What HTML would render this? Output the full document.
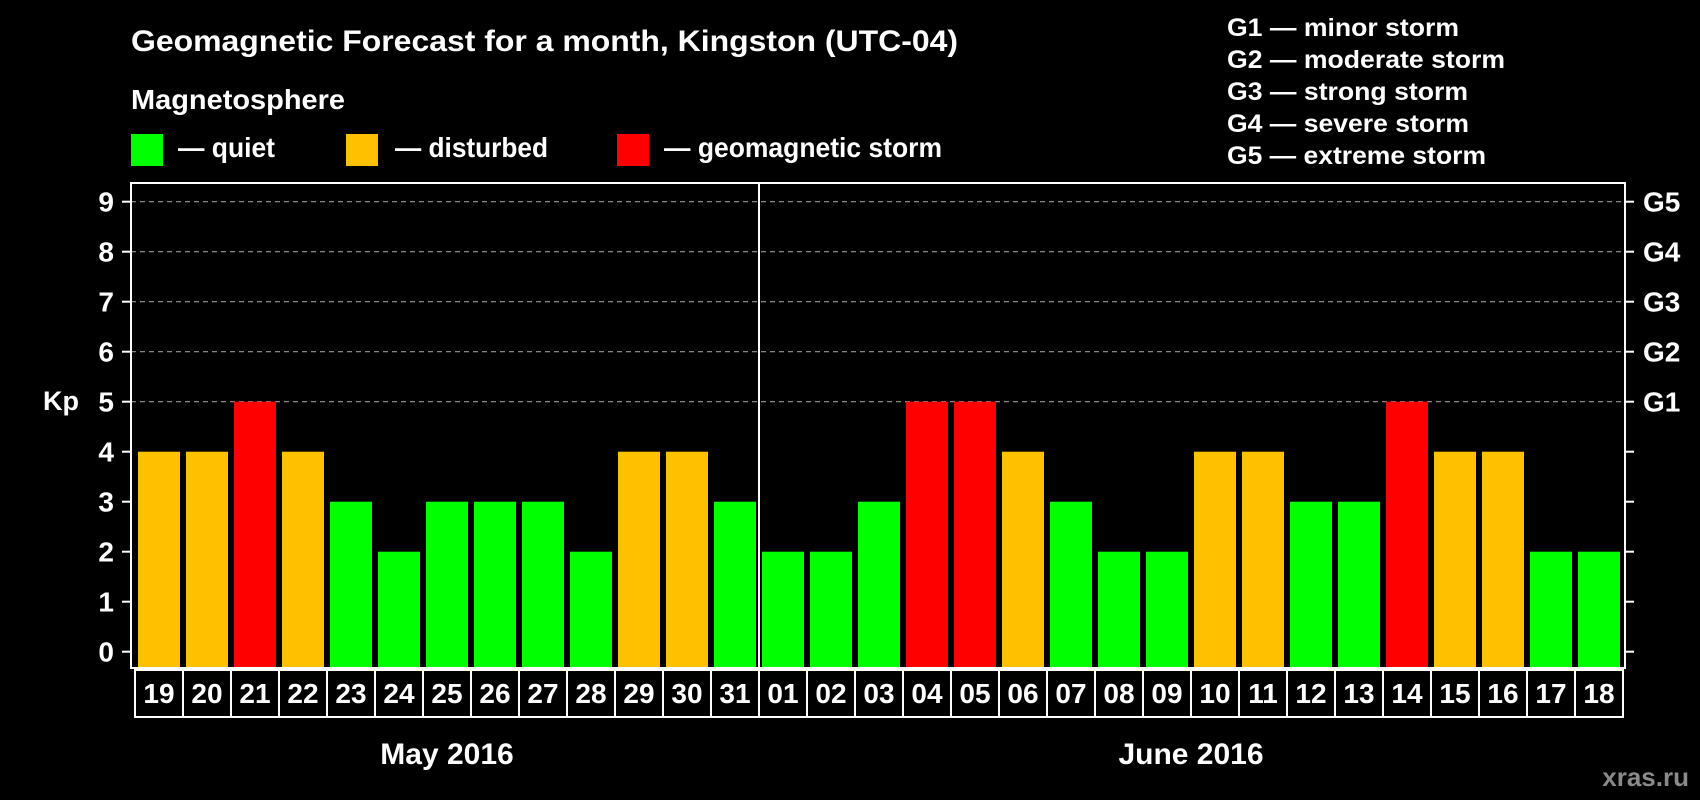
<!DOCTYPE html>
<html><head><meta charset="utf-8"><style>
html,body{margin:0;padding:0;background:#000;}
svg{display:block}
text{font-family:"Liberation Sans Narrow","Liberation Sans",sans-serif;font-weight:bold;fill:#fff}
.w{font-family:"Liberation Sans",sans-serif}
</style></head><body>
<svg id="chart" width="1700" height="800" viewBox="0 0 1700 800" xmlns="http://www.w3.org/2000/svg">
<rect width="1700" height="800" fill="#000"/>
<text x="131" y="51" font-size="30" textLength="827" lengthAdjust="spacingAndGlyphs">Geomagnetic Forecast for a month, Kingston (UTC-04)</text>
<text x="131" y="109" font-size="28" textLength="214" lengthAdjust="spacingAndGlyphs">Magnetosphere</text>
<rect x="131" y="134" width="32" height="32" fill="#00ff00"/>
<text x="178" y="157" font-size="28" textLength="97" lengthAdjust="spacingAndGlyphs">— quiet</text>
<rect x="346" y="134" width="32" height="32" fill="#ffc000"/>
<text x="395" y="157" font-size="28" textLength="153" lengthAdjust="spacingAndGlyphs">— disturbed</text>
<rect x="617" y="134" width="32" height="32" fill="#ff0000"/>
<text x="664" y="157" font-size="28" textLength="278" lengthAdjust="spacingAndGlyphs">— geomagnetic storm</text>
<g class="w">
<text class="w" x="1227" y="36" font-size="25" textLength="232" lengthAdjust="spacingAndGlyphs">G1 — minor storm</text>
<text class="w" x="1227" y="68" font-size="25" textLength="278" lengthAdjust="spacingAndGlyphs">G2 — moderate storm</text>
<text class="w" x="1227" y="100" font-size="25" textLength="241" lengthAdjust="spacingAndGlyphs">G3 — strong storm</text>
<text class="w" x="1227" y="132" font-size="25" textLength="242" lengthAdjust="spacingAndGlyphs">G4 — severe storm</text>
<text class="w" x="1227" y="164" font-size="25" textLength="259" lengthAdjust="spacingAndGlyphs">G5 — extreme storm</text>
</g>
<text class="w" x="43" y="410" font-size="27">Kp</text>
<text class="w" x="1689" y="786" font-size="26" text-anchor="end" fill="#8a8a8a" style="fill:#8a8a8a">xras.ru</text>
<g id="grid"></g><g id="bars"></g><g id="axes"></g><g id="dates"></g>
</svg>
<script>
const days = ["19","20","21","22","23","24","25","26","27","28","29","30","31","01","02","03","04","05","06","07","08","09","10","11","12","13","14","15","16","17","18"];
const kpValues = [4,4,5,4,3,2,3,3,3,2,4,4,3,2,2,3,5,5,4,3,2,2,4,4,3,3,5,4,4,2,2];
const yTicks = [0,1,2,3,4,5,6,7,8,9];
const gLabels = ["","","","","","G1","G2","G3","G4","G5"];
const months = ["May 2016","June 2016"];
const monthStartIdx = [0,13];

const NS="http://www.w3.org/2000/svg";
const L=131,R=1625,T=183,B=668,slot0=135,slotW=48;
function y(v){return 651.7-50*v;}
function x(i){return slot0+slotW*i;}
function mk(tag,attrs,parent){const e=document.createElementNS(NS,tag);for(const k in attrs)e.setAttribute(k,attrs[k]);parent.appendChild(e);return e;}
function col(v){return v>=5?"#ff0000":(v>=4?"#ffc000":"#00ff00");}
const grid=document.getElementById("grid"),bars=document.getElementById("bars"),axes=document.getElementById("axes"),dates=document.getElementById("dates");

yTicks.forEach((t,i)=>{
  if(t>=5){
    const g=mk("line",{x1:L,x2:R,y1:y(t),y2:y(t),stroke:"#999","stroke-width":1.2,"stroke-dasharray":"5,4"},grid);
    
    
  }
  const tl=mk("line",{x1:L-9,x2:L,y1:y(t),y2:y(t),stroke:"#fff","stroke-width":2},axes);
  
  
  const tr=mk("line",{x1:R,x2:R+9,y1:y(t),y2:y(t),stroke:"#fff","stroke-width":2},axes);
  
  
  const lb=mk("text",{x:114,y:y(t)+10,"font-size":28,"text-anchor":"end",class:"w"},axes);
  lb.textContent=t;
  
  
  if(gLabels[i]){
    const gl=mk("text",{x:1643,y:y(t)+10,"font-size":28,class:"w"},axes);
    gl.textContent=gLabels[i];
    
    
  }
});

kpValues.forEach((v,i)=>{
  const b=mk("rect",{x:x(i)+3,y:y(v),width:42,height:B-y(v),fill:col(v)},bars);
  
  
});

const frame=mk("rect",{x:L,y:T,width:R-L,height:B-T,fill:"none",stroke:"#fff","stroke-width":2},axes);


const div=mk("line",{x1:x(monthStartIdx[1]),x2:x(monthStartIdx[1]),y1:T,y2:B,stroke:"#fff","stroke-width":2},axes);



days.forEach((d,i)=>{
  const bx=mk("rect",{x:x(i),y:670,width:slotW,height:47,fill:"none",stroke:"#fff","stroke-width":2},dates);
  
  
  const t=mk("text",{x:x(i)+slotW/2,y:703,"font-size":28,"text-anchor":"middle"},dates);
  t.textContent=d;
  
  
});

months.forEach((m,k)=>{
  const s=monthStartIdx[k],e=(k+1<monthStartIdx.length?monthStartIdx[k+1]:days.length);
  const t=mk("text",{x:(x(s)+x(e))/2,y:764,"font-size":30,"text-anchor":"middle"},dates);
  t.textContent=m;
  
  
});
</script>
</body></html>
